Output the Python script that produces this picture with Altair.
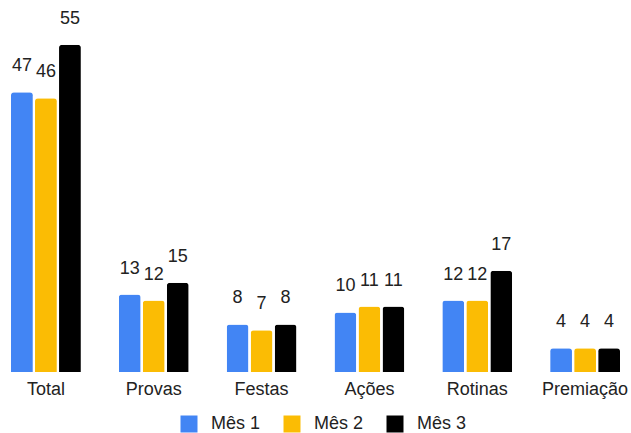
import altair as alt
import pandas as pd

categories = ["Total", "Provas", "Festas", "Ações", "Rotinas", "Premiação"]
series = ["Mês 1", "Mês 2", "Mês 3"]
mes1 = [47, 13, 8, 10, 12, 4]
mes2 = [46, 12, 7, 11, 12, 4]
mes3 = [55, 15, 8, 11, 17, 4]
colors = ["#4285F4", "#FBBC04", "#000000"]

rows = []
for i, c in enumerate(categories):
    for s, vals in zip(series, [mes1, mes2, mes3]):
        rows.append({"cat": c, "serie": s, "valor": vals[i]})
df = pd.DataFrame(rows)

font = "Liberation Sans"
fs = 18

x = alt.X("cat:N", sort=categories, title=None,
          scale=alt.Scale(paddingInner=0.352, paddingOuter=0.102),
          axis=alt.Axis(labelAngle=0, labelFontSize=fs, labelColor="#222222",
                        labelFont=font, labelPadding=8, domain=False, ticks=False,
                        grid=False))
xo = alt.XOffset("serie:N", sort=series,
                 scale=alt.Scale(paddingInner=0.09, paddingOuter=0))
y = alt.Y("valor:Q", scale=alt.Scale(domain=[0, 62.5], nice=False, zero=True),
          axis=None)

bars = alt.Chart(df).mark_bar(cornerRadiusTopLeft=3, cornerRadiusTopRight=3).encode(
    x=x, xOffset=xo, y=y,
    color=alt.Color("serie:N", sort=series,
                    scale=alt.Scale(domain=series, range=colors),
                    legend=alt.Legend(title=None, orient="none", legendX=180, legendY=415,
                                      direction="horizontal", symbolType="square",
                                      symbolSize=289, symbolStrokeWidth=0,
                                      labelFontSize=fs, labelFont=font,
                                      labelColor="#222222", labelOffset=13,
                                      columnPadding=22))
)

labels = alt.Chart(df).mark_text(fontSize=fs, font=font, color="#222222",
                                 baseline="alphabetic", dy=-21).encode(
    x=x, xOffset=xo, y=y, text="valor:Q"
)

chart = (bars + labels).properties(
    width=631, height=372,
    autosize=alt.AutoSizeParams(type="none"),
    padding={"left": 0, "right": 0, "top": 0, "bottom": 61},
).configure_view(stroke=None)

chart.save("out.html", embed_options={"renderer": "svg", "actions": False})
